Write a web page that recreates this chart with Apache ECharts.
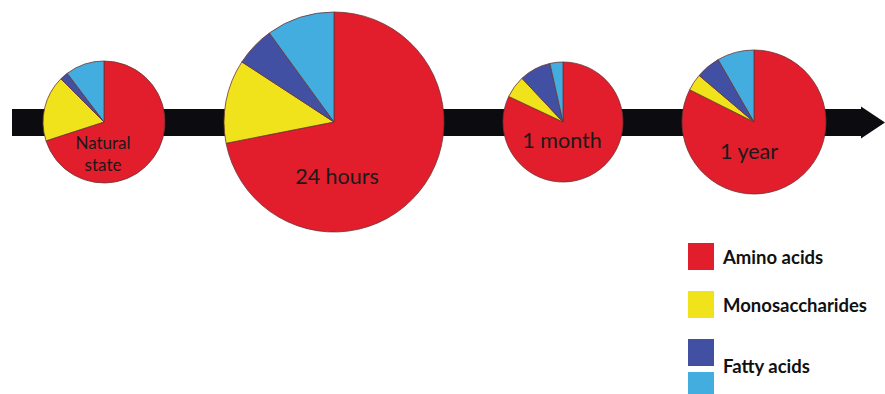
<!DOCTYPE html>
<html>
<head>
<meta charset="utf-8">
<script src="https://cdn.jsdelivr.net/npm/echarts@6/dist/echarts.min.js"></script>
<style>
  html, body { margin: 0; padding: 0; background: #fff; }
  #chart { width: 885px; height: 394px; }
</style>
</head>
<body>
<div id="chart"></div>
<script>
// data (percent of each pie)
var stages = ["Natural\nstate", "24 hours", "1 month", "1 year"];
var categories = ["Amino acids", "Monosaccharides", "Fatty acids", "Other fatty acids"];
var aminoAcids = [70.0, 71.9, 82.0, 82.4];
var monosaccharides = [17.5, 12.3, 6.0, 3.8];
var fattyAcids = [2.2, 5.8, 8.5, 5.5];
var otherFatty = [10.3, 10.0, 3.5, 8.3];

// layout
var pieX = [104, 334, 563, 754];
var pieR = [61, 110, 60, 72];
var pieY = 122;
var labelX = [103, 337, 562, 749];
var labelY = [153, 176, 140, 151];
var colors = ["#e21d2c", "#f1e31b", "#4250a4", "#43ade0"];
var font = "Lato, 'Open Sans', sans-serif";

var chart = echarts.init(document.getElementById("chart"), null, { renderer: "svg" });

var series = [];
var titles = [];
for (var i = 0; i < stages.length; i++) {
    var vals = [aminoAcids[i], monosaccharides[i], fattyAcids[i], otherFatty[i]];
    var data = [];
    for (var j = 0; j < categories.length; j++) {
        data.push({ name: categories[j], value: vals[j] });
    }
    series.push({
        type: "pie",
        name: stages[i],
        center: [pieX[i], pieY],
        radius: [0, pieR[i]],
        startAngle: 90,
        clockwise: true,
        silent: true,
        label: { show: false },
        labelLine: { show: false },
        itemStyle: { borderColor: "#6b3434", borderWidth: 0.8 },
        data: data
    });
    var lines = stages[i].split("\n").length;
    titles.push({
        text: stages[i],
        left: labelX[i],
        top: labelY[i] - lines * 11,
        padding: 0,
        textAlign: "center",
        textStyle: {
            fontFamily: font,
            fontWeight: "normal",
            fontSize: i == 0 ? 17 : 21.5,
            lineHeight: 22,
            color: "#1a1a1a"
        }
    });
}

// the fatty acids item is two lines tall (label sits between the two blue squares)
var legendTop = [243, 291, 325.5, 372];
var legends = [];
for (var k = 0; k < categories.length; k++) {
    var fmt = "{name}";
    if (k == 2) fmt = "\n{name}";
    if (k == 3) fmt = function () { return ""; };
    legends.push({
        data: [categories[k]],
        left: 688,
        top: legendTop[k],
        padding: 0,
        icon: "rect",
        itemWidth: 26,
        itemHeight: 27,
        itemStyle: { borderWidth: 0 },
        selectedMode: false,
        formatter: fmt,
        textStyle: {
            fontFamily: font,
            fontWeight: "bold",
            fontSize: 18.5,
            lineHeight: 27,
            color: "#111",
            padding: [0, 0, 0, 4]
        }
    });
}

var option = {
    backgroundColor: "#fff",
    animation: false,
    color: colors,
    title: titles,
    legend: legends,
    grid: { left: 12, right: 885 - 862, top: 20, bottom: 394 - 122.5 },
    xAxis: {
        type: "value",
        min: 0,
        max: 1,
        axisLine: {
            show: true,
            lineStyle: { color: "#0c0c10", width: 27, cap: "butt" }
        },
        axisTick: { show: false },
        axisLabel: { show: false },
        splitLine: { show: false }
    },
    yAxis: { type: "value", show: false },
    graphic: [{
        type: "polygon",
        z: 0,
        shape: { points: [[861, 106.5], [885, 122.5], [861, 138.5]] },
        style: { fill: "#0c0c10" }
    }],
    series: series
};
chart.setOption(option);
</script>
</body>
</html>
